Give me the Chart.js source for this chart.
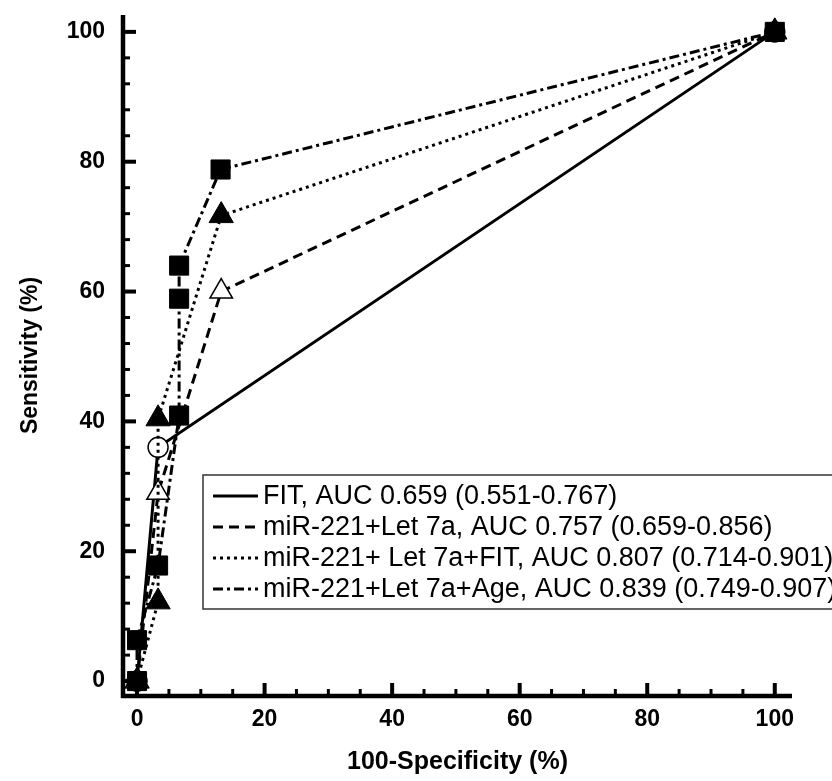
<!DOCTYPE html>
<html>
<head>
<meta charset="utf-8">
<script src="https://cdn.jsdelivr.net/npm/chart.js@4/dist/chart.umd.min.js"></script>
<style>
  html, body { margin: 0; padding: 0; background: #fff; }
  #wrap { width: 832px; height: 781px; }
</style>
</head>
<body>
<div id="wrap"><canvas id="roc"></canvas></div>
<script>
// ROC curves, values (x = 100-specificity, y = sensitivity)
const seriesNames = [
  "FIT, AUC 0.659 (0.551-0.767)",
  "miR-221+Let 7a, AUC 0.757 (0.659-0.856)",
  "miR-221+ Let 7a+FIT, AUC 0.807 (0.714-0.901)",
  "miR-221+Let 7a+Age, AUC 0.839 (0.749-0.907)"
]
const fitX = [0, 3.3, 100]
const fitY = [0, 36, 100]
const letX = [0, 3.3, 13.2, 100]
const letY = [0, 29, 60, 100]
const letFitX = [0, 3.3, 3.3, 13.2, 100]
const letFitY = [0, 12.2, 40.4, 71.7, 100]
const letAgeX = [0, 0, 3.3, 6.6, 6.6, 6.6, 13.1, 100]
const letAgeY = [0, 6.3, 17.8, 40.9, 58.9, 64, 78.8, 100]
const xTicks = [0, 20, 40, 60, 80, 100]
const yTicks = [0, 20, 40, 60, 80, 100]

const FONT = "'Liberation Sans', Arial, sans-serif"
const pts = (xs, ys) => xs.map((x, i) => ({ x: x, y: ys[i] }))

// spines with inward major/minor ticks, like the original plot
const axisMarks = {
  id: "axisMarks",
  afterDatasetsDraw(chart) {
    const { ctx, chartArea: a, scales: { x, y } } = chart
    ctx.save()
    ctx.strokeStyle = "#000"
    ctx.lineCap = "butt"
    ctx.lineWidth = 4.5
    ctx.beginPath()
    ctx.moveTo(a.left, a.top)
    ctx.lineTo(a.left, a.bottom + 2)
    ctx.moveTo(a.left - 2, a.bottom)
    ctx.lineTo(a.right, a.bottom)
    ctx.stroke()
    for (let v = 0; v <= 100; v += 4) {
      const major = v % 20 === 0
      const py = y.getPixelForValue(v)
      ctx.lineWidth = major ? 4 : 3
      ctx.beginPath()
      ctx.moveTo(a.left, py)
      ctx.lineTo(a.left + (major ? 13 : 7), py)
      ctx.stroke()
    }
    for (let v = 0; v <= 100; v += 5) {
      const major = v % 20 === 0
      const px = x.getPixelForValue(v)
      ctx.lineWidth = major ? 4 : 3
      ctx.beginPath()
      ctx.moveTo(px, a.bottom)
      ctx.lineTo(px, a.bottom - (major ? 13 : 7))
      ctx.stroke()
    }
    ctx.restore()
  }
}

// boxed legend inside the plot, partly running off the right edge
const boxLegend = {
  id: "boxLegend",
  afterDraw(chart) {
    const ctx = chart.ctx
    const left = 203, top = 475, rowH = 31
    const sets = chart.data.datasets.slice().sort((p, q) => p.legendIndex - q.legendIndex)
    ctx.save()
    ctx.fillStyle = "#fff"
    ctx.fillRect(left, top, 700, rowH * sets.length + 10)
    ctx.strokeStyle = "#333"
    ctx.lineWidth = 1.5
    ctx.strokeRect(left, top, 700, rowH * sets.length + 10)
    ctx.font = "27px " + FONT
    ctx.textBaseline = "middle"
    ctx.fillStyle = "#000"
    sets.forEach((ds, i) => {
      const cy = top + 21 + i * rowH
      ctx.strokeStyle = "#000"
      ctx.lineWidth = 3
      ctx.setLineDash(ds.borderDash || [])
      ctx.beginPath()
      ctx.moveTo(213, cy)
      ctx.lineTo(258, cy)
      ctx.stroke()
      ctx.setLineDash([])
      ctx.fillText(ds.label, 263, cy + 1)
    })
    ctx.restore()
  }
}

new Chart(document.getElementById("roc"), {
  type: "scatter",
  data: {
    datasets: [
      {
        label: seriesNames[3],
        legendIndex: 3,
        order: 0,
        data: pts(letAgeX, letAgeY),
        showLine: true,
        borderColor: "#000",
        borderWidth: 3,
        borderDash: [10, 4, 3, 4],
        pointStyle: "rect",
        pointRadius: 13.5,
        pointBackgroundColor: "#000",
        pointBorderColor: "#000",
        pointBorderWidth: 1
      },
      {
        label: seriesNames[2],
        legendIndex: 2,
        order: 1,
        data: pts(letFitX, letFitY),
        showLine: true,
        borderColor: "#000",
        borderWidth: 3,
        borderDash: [3, 4],
        pointStyle: "triangle",
        pointRadius: 14,
        pointBackgroundColor: "#000",
        pointBorderColor: "#000",
        pointBorderWidth: 1
      },
      {
        label: seriesNames[1],
        legendIndex: 1,
        order: 2,
        data: pts(letX, letY),
        showLine: true,
        borderColor: "#000",
        borderWidth: 3,
        borderDash: [10, 6],
        pointStyle: "triangle",
        pointRadius: 13,
        pointBackgroundColor: "#fff",
        pointBorderColor: "#000",
        pointBorderWidth: 1.5
      },
      {
        label: seriesNames[0],
        legendIndex: 0,
        order: 3,
        data: pts(fitX, fitY),
        showLine: true,
        borderColor: "#000",
        borderWidth: 3,
        pointStyle: "circle",
        pointRadius: 10,
        pointBackgroundColor: "#fff",
        pointBorderColor: "#000",
        pointBorderWidth: 1.5
      }
    ]
  },
  options: {
    responsive: true,
    maintainAspectRatio: false,
    animation: false,
    layout: { padding: { left: 15, right: 40, top: 14, bottom: 0 } },
    plugins: {
      legend: { display: false },
      tooltip: { enabled: false }
    },
    scales: {
      x: {
        type: "linear",
        min: -2.2,
        max: 102.7,
        afterBuildTicks: (axis) => { axis.ticks = xTicks.map(v => ({ value: v })) },
        afterFit: (s) => { s.height = 85; s.paddingLeft = 0; s.paddingRight = 0 },
        grid: { display: false, drawTicks: false },
        border: { display: false },
        ticks: {
          color: "#000",
          maxRotation: 0,
          padding: 10,
          font: { family: FONT, size: 23, weight: "bold" }
        },
        title: {
          display: true,
          text: "100-Specificity (%)",
          color: "#000",
          font: { family: FONT, size: 25, weight: "bold" },
          padding: { top: 4, bottom: 4 }
        }
      },
      y: {
        type: "linear",
        min: -2.3,
        max: 102.6,
        afterBuildTicks: (axis) => { axis.ticks = yTicks.map(v => ({ value: v })) },
        afterFit: (s) => { s.width = 108; s.paddingTop = 0; s.paddingBottom = 0 },
        grid: { display: false, drawTicks: false },
        border: { display: false },
        ticks: {
          color: "#000",
          padding: 18,
          font: { family: FONT, size: 23, weight: "bold" }
        },
        title: {
          display: true,
          text: "Sensitivity (%)",
          color: "#000",
          font: { family: FONT, size: 23, weight: "bold" },
          padding: { top: 2, bottom: 4 }
        }
      }
    }
  },
  plugins: [axisMarks, boxLegend]
})
</script>
</body>
</html>
